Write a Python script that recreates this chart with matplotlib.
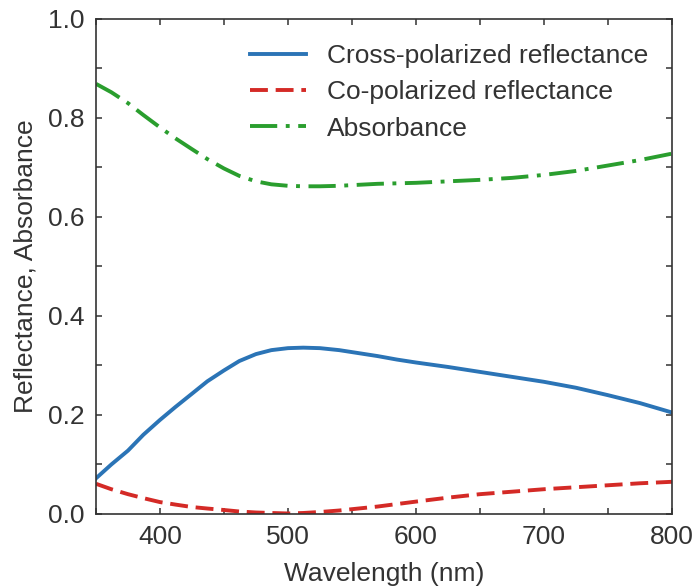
import matplotlib
matplotlib.use("Agg")
import matplotlib.pyplot as plt
from matplotlib.ticker import MultipleLocator, FormatStrFormatter

plt.rcParams['font.family'] = ['Liberation Sans', 'DejaVu Sans']

wavelength = [350, 362, 375, 387, 400, 412, 425, 437, 450, 462, 475, 487, 500, 512, 525, 540,
              555, 570, 585, 600, 625, 650, 675, 700, 725, 750, 775, 800]
cross_pol = [0.072, 0.100, 0.128, 0.160, 0.190, 0.216, 0.243, 0.268, 0.290, 0.309, 0.323, 0.331,
             0.335, 0.336, 0.335, 0.331, 0.325, 0.319, 0.312, 0.306, 0.297, 0.287, 0.277, 0.267,
             0.255, 0.240, 0.224, 0.205]
co_pol = [0.061, 0.050, 0.040, 0.032, 0.024, 0.019, 0.014, 0.011, 0.008, 0.005, 0.003, 0.002,
          0.001, 0.002, 0.004, 0.007, 0.011, 0.015, 0.020, 0.025, 0.033, 0.040, 0.045, 0.050,
          0.054, 0.058, 0.062, 0.065]
absorbance = [0.869, 0.852, 0.830, 0.806, 0.781, 0.759, 0.737, 0.717, 0.698, 0.683, 0.672, 0.666,
              0.663, 0.662, 0.662, 0.663, 0.665, 0.667, 0.668, 0.669, 0.672, 0.675, 0.679, 0.685,
              0.693, 0.704, 0.715, 0.728]

fig = plt.figure(figsize=(6.97, 5.88), dpi=100)
ax = fig.add_axes([0.1377, 0.1259, 0.8264, 0.8418])

txt = '#333333'
lw = 2.8
ax.plot(wavelength, cross_pol, color='#2b74b6', lw=lw, label='Cross-polarized reflectance')
ax.plot(wavelength, co_pol, color='#d42a26', lw=lw, dashes=(4.6, 2.0), label='Co-polarized reflectance')
ax.plot(wavelength, absorbance, color='#2a9e2e', lw=lw, dashes=(7.0, 2.2, 1.0, 2.2), label='Absorbance')

ax.set_xlim(350, 800)
ax.set_ylim(0, 1.0)
ax.xaxis.set_major_locator(MultipleLocator(100))
ax.xaxis.set_minor_locator(MultipleLocator(50))
ax.yaxis.set_major_locator(MultipleLocator(0.2))
ax.yaxis.set_minor_locator(MultipleLocator(0.1))
ax.tick_params(which='both', direction='in', top=True, right=True, length=4.5, width=1.1,
               color=txt, labelsize=19, labelcolor=txt)
ax.tick_params(axis='x', pad=8)
ax.tick_params(axis='y', pad=8)
ax.yaxis.set_major_formatter(FormatStrFormatter('%.1f'))
for s in ax.spines.values():
    s.set_color(txt)
    s.set_linewidth(1.2)

ax.set_xlabel('Wavelength (nm)', fontsize=19, color=txt, labelpad=9)
ax.set_ylabel('Reflectance, Absorbance', fontsize=19, color=txt, labelpad=8)

leg = ax.legend(loc='upper right', frameon=False, fontsize=19, handlelength=2.1,
                handletextpad=0.8, labelspacing=0.47, borderaxespad=0,
                bbox_to_anchor=(0.977, 0.971))
for t in leg.get_texts():
    t.set_color(txt)

fig.savefig('out.png', dpi=100)
